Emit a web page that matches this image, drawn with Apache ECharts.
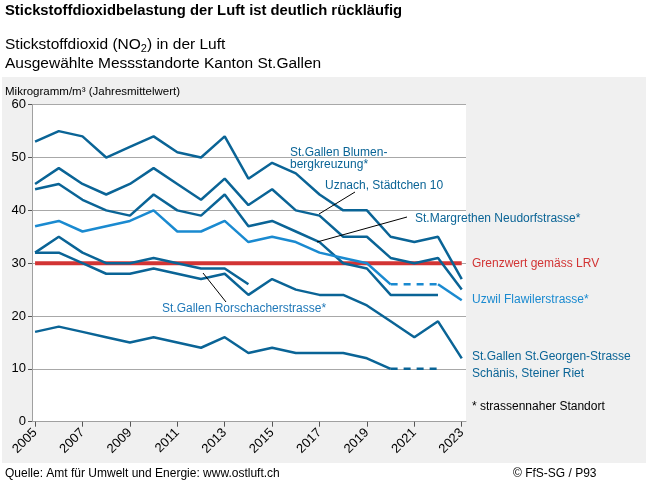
<!DOCTYPE HTML>
<html>
<head>
    <meta charset="utf-8">
    <title>Stickstoffdioxid</title>
    <script src="https://cdn.jsdelivr.net/npm/echarts@6/dist/echarts.min.js"></script>
    <style>
        body { margin: 0; background: #fff; }
        #container { width: 648px; height: 485px; }
    </style>
</head>
<body>
<div id="container"></div>
<script>
    // Jahre und Messwerte (Jahresmittelwert, µg/m³)
    var years = [2005, 2006, 2007, 2008, 2009, 2010, 2011, 2012, 2013, 2014,
                 2015, 2016, 2017, 2018, 2019, 2020, 2021, 2022, 2023];
    var blumenberg = [53, 55, 54, 50, 52, 54, 51, 50, 54, 46, 49, 47, 43, 40, 40, 35, 34, 35, 27];
    var uznach = [45, 48, 45, 43, 45, 48, 45, 42, 46, 41, 44, 40, 39, 35, 35, 31, 30, 31, 25];
    var margrethen = [44, 45, 42, 40, 39, 43, 40, 39, 43, 37, 38, 36, 34, 30, 29, 24, 24, 24, null];
    var uzwil = [37, 38, 36, 37, 38, 40, 36, 36, 38, 34, 35, 34, 32, 31, 30, 26, 26, 26, 23];
    var rorschacher = [32, 35, 32, 30, 30, 31, 30, 29, 29, 26, null, null, null, null, null, null, null, null, null];
    var georgen = [32, 32, 30, 28, 28, 29, 28, 27, 28, 24, 27, 25, 24, 24, 22, 19, 16, 19, 12];
    var schaenis = [17, 18, 17, 16, 15, 16, 15, 14, 16, 13, 14, 13, 13, 13, 12, 10, 10, 10, null];
    var grenzwert = 30;
    // Jahre ohne gesicherte Messung (gestrichelt)
    var dashFrom = 2020, dashTo = 2022;
    var tickYears = [2005, 2007, 2009, 2011, 2013, 2015, 2017, 2019, 2021, 2023];

    var dark = '#0a6496';
    var light = '#1a8ad0';
    var red = '#d23434';

    function pairs(vals, from, to) {
        var out = [];
        for (var i = 0; i < years.length; i++) {
            var y = years[i];
            if (y >= from && y <= to && vals[i] != null) out.push([y, vals[i]]);
        }
        return out;
    }

    function line(vals, color, from, to, dashed) {
        return {
            type: 'line',
            data: pairs(vals, from, to),
            showSymbol: false,
            symbol: 'none',
            silent: true,
            lineStyle: { color: color, width: 2.5, type: dashed ? [7, 6] : 'solid' },
            z: 3
        };
    }

    var series = [
        {
            type: 'line',
            data: [[years[0], grenzwert], [years[years.length - 1], grenzwert]],
            symbol: 'none',
            silent: true,
            lineStyle: { color: red, width: 4 },
            z: 2
        },
        line(blumenberg, dark, 2005, 2023),
        line(uznach, dark, 2005, 2023),
        line(margrethen, dark, 2005, 2023),
        line(rorschacher, dark, 2005, 2023),
        line(georgen, dark, 2005, 2023),
        line(uzwil, light, 2005, dashFrom),
        line(uzwil, light, dashFrom, dashTo, true),
        line(uzwil, light, dashTo, 2023),
        line(schaenis, dark, 2005, dashFrom),
        line(schaenis, dark, dashFrom, dashTo, true)
    ];

    var font = 'Liberation Sans, Arial, sans-serif';
    function txt(x, y, s, color, size, weight) {
        return {
            type: 'text', x: x, y: y, silent: true,
            style: { text: s, fill: color, font: (weight || 'normal') + ' ' + size + 'px ' + font, textVerticalAlign: 'middle' }
        };
    }
    function leader(x1, y1, x2, y2) {
        return {
            type: 'line', silent: true, z: 20,
            shape: { x1: x1, y1: y1, x2: x2, y2: y2 },
            style: { stroke: '#000', lineWidth: 1 }
        };
    }

    var chart = echarts.init(document.getElementById('container'));
    var option = {
        backgroundColor: '#fff',
        animation: false,
        grid: {
            left: 32, right: 182, top: 104.7, bottom: 63.3,
            show: true, backgroundColor: '#fff', borderWidth: 0
        },
        xAxis: {
            type: 'value',
            min: 2004.87,
            max: 2023.18,
            axisLine: { show: true, lineStyle: { color: '#a0a0a0' } },
            axisTick: { show: true, length: 5, lineStyle: { color: '#555' }, customValues: tickYears },
            axisLabel: {
                customValues: tickYears,
                rotate: 45, margin: 9,
                color: '#000', fontSize: 13, fontFamily: font,
                formatter: function (v) { return String(v); }
            },
            splitLine: { show: false }
        },
        yAxis: {
            type: 'value',
            min: 0, max: 60, interval: 10,
            axisLine: { show: true, lineStyle: { color: '#a0a0a0' } },
            axisTick: { show: true, length: 4, lineStyle: { color: '#555' } },
            axisLabel: { color: '#000', fontSize: 13, fontFamily: font, margin: 6 },
            splitLine: { show: true, lineStyle: { color: '#a8a8a8', width: 1 } }
        },
        series: series,
        graphic: [
            {
                type: 'rect', silent: true, z: -10,
                shape: { x: 2, y: 77, width: 644, height: 386 },
                style: { fill: '#f0f0f0' }
            },
            txt(5, 11, 'Stickstoffdioxidbelastung der Luft ist deutlich rückläufig', '#000', 14.8, 'bold'),
            {
                type: 'text', x: 5, y: 45, silent: true,
                style: {
                    text: '{a|Stickstoffdioxid (NO}{s|2}{a|) in der Luft}',
                    textVerticalAlign: 'middle',
                    rich: {
                        a: { fontSize: 15.5, fontFamily: font, fill: '#000' },
                        s: { fontSize: 11, fontFamily: font, fill: '#000', padding: [8, 0, 0, 0] }
                    }
                }
            },
            txt(5, 64, 'Ausgewählte Messstandorte Kanton St.Gallen', '#000', 15.5),
            txt(5, 92, 'Mikrogramm/m³ (Jahresmittelwert)', '#000', 11.5),
            txt(290, 153, 'St.Gallen Blumen-', dark, 12),
            txt(290, 165, 'bergkreuzung*', dark, 12),
            txt(325, 186, 'Uznach, Städtchen 10', dark, 12),
            leader(355, 192, 319, 214),
            txt(415, 219, 'St.Margrethen Neudorfstrasse*', dark, 12),
            leader(407, 217, 317, 242),
            txt(162, 309, 'St.Gallen Rorschacherstrasse*', '#1f78b8', 12),
            leader(203, 273, 226, 302),
            txt(472, 264, 'Grenzwert gemäss LRV', red, 12),
            txt(472, 300, 'Uzwil Flawilerstrasse*', light, 12),
            txt(472, 357, 'St.Gallen St.Georgen-Strasse', dark, 12),
            txt(472, 374, 'Schänis, Steiner Riet', dark, 12),
            txt(472, 407, '* strassennaher Standort', '#000', 12),
            txt(5, 474, 'Quelle: Amt für Umwelt und Energie: www.ostluft.ch', '#000', 12),
            txt(513, 474, '© FfS-SG / P93', '#000', 12)
        ]
    };
    chart.setOption(option);
</script>
</body>
</html>
